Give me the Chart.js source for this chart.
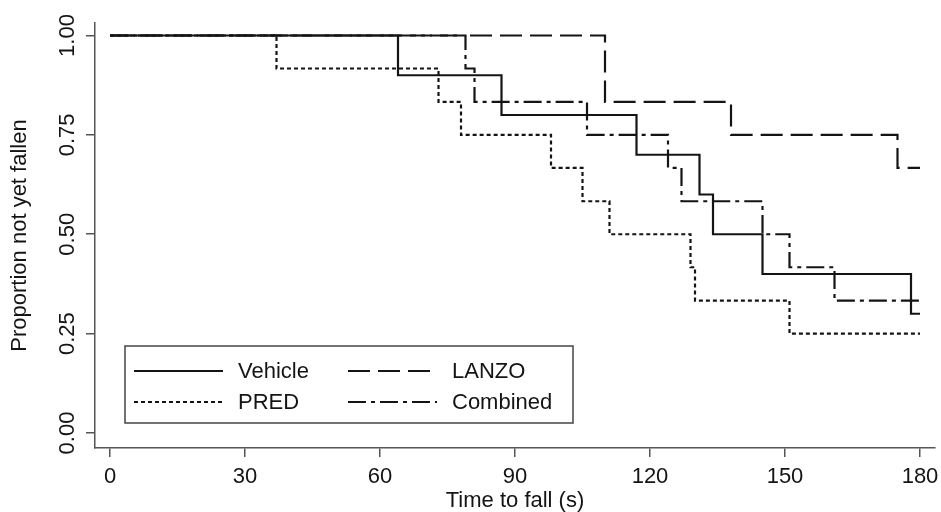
<!DOCTYPE html>
<html>
<head>
<meta charset="utf-8">
<script src="https://cdn.jsdelivr.net/npm/chart.js@4/dist/chart.umd.min.js"></script>
<style>
  html, body { margin: 0; padding: 0; background: #fff; }
  #wrap { width: 941px; height: 512px; }
</style>
</head>
<body>
<div id="wrap"><canvas id="km" width="941" height="512"></canvas></div>
<script>
// Kaplan-Meier steps: time of each fall and the proportion left after it
const VEHICLE_T  = [0, 64, 87, 117, 131, 134, 145, 178, 180];
const VEHICLE_S  = [1, 0.9, 0.8, 0.7, 0.6, 0.5, 0.4, 0.3, 0.3];
const PRED_T     = [0, 37, 73, 78, 98, 105, 111, 129, 130, 151, 180];
const PRED_S     = [1, 0.917, 0.833, 0.75, 0.667, 0.583, 0.5, 0.417, 0.333, 0.25, 0.25];
const LANZO_T    = [0, 110, 138, 175, 180];
const LANZO_S    = [1, 0.833, 0.75, 0.667, 0.667];
const COMBINED_T = [0, 79, 81, 106, 124, 127, 145, 151, 161, 180];
const COMBINED_S = [1, 0.917, 0.833, 0.75, 0.667, 0.583, 0.5, 0.417, 0.333, 0.333];

const X_TICKS = [0, 30, 60, 90, 120, 150, 180];
const Y_TICKS = [0, 0.25, 0.5, 0.75, 1];
const Y_TICK_LABELS = ['0.00', '0.25', '0.50', '0.75', '1.00'];

const INK = '#141414';
const AXIS = '#555';
const FONT = '"Liberation Sans", Arial, sans-serif';

function toPoints(ts, ss) {
    return ts.map((t, i) => ({ x: t, y: ss[i] }));
}

function series(label, ts, ss, dash) {
    return {
        label: label,
        data: toPoints(ts, ss),
        stepped: 'before',
        borderColor: INK,
        borderWidth: 2.2,
        borderDash: dash,
        pointRadius: 0,
        fill: false
    };
}

const datasets = [
    series('Vehicle', VEHICLE_T, VEHICLE_S, []),
    series('LANZO', LANZO_T, LANZO_S, [22, 8]),
    series('PRED', PRED_T, PRED_S, [4, 3]),
    series('Combined', COMBINED_T, COMBINED_S, [18, 5, 4, 5])
];

// rotated y tick labels and the boxed legend, drawn after the chart
const extras = {
    id: 'extras',
    afterDraw(chart) {
        const ctx = chart.ctx;
        const y = chart.scales.y;
        ctx.save();
        ctx.fillStyle = INK;
        ctx.font = '22px ' + FONT;
        ctx.textAlign = 'center';
        ctx.textBaseline = 'middle';
        Y_TICKS.forEach((v, i) => {
            ctx.save();
            ctx.translate(68, y.getPixelForValue(v));
            ctx.rotate(-Math.PI / 2);
            ctx.fillText(Y_TICK_LABELS[i], 0, 0);
            ctx.restore();
        });

        // legend box
        ctx.strokeStyle = '#444';
        ctx.lineWidth = 1.5;
        ctx.strokeRect(125, 346, 448, 77);
        const slots = [[134, 371], [348, 371], [134, 402], [348, 402]];
        ctx.textAlign = 'left';
        chart.data.datasets.forEach((ds, i) => {
            const [sx, sy] = slots[i];
            ctx.beginPath();
            ctx.setLineDash(ds.borderDash);
            ctx.strokeStyle = INK;
            ctx.lineWidth = 2.2;
            ctx.moveTo(sx, sy);
            ctx.lineTo(sx + 89, sy);
            ctx.stroke();
            ctx.setLineDash([]);
            ctx.fillText(ds.label, sx + 104, sy + 1);
        });
        ctx.restore();
    }
};

new Chart(document.getElementById('km'), {
    type: 'line',
    data: { datasets: datasets },
    plugins: [extras],
    options: {
        responsive: false,
        animation: false,
        layout: { padding: { top: 23, right: 6, left: 0, bottom: 0 } },
        plugins: {
            legend: { display: false },
            tooltip: { enabled: false }
        },
        scales: {
            x: {
                type: 'linear',
                min: -15 / 4.5,
                max: 180 + 15 / 4.5,
                afterBuildTicks: s => { s.ticks = X_TICKS.map(v => ({ value: v })); },
                afterFit: s => {
                    s.height = 64;
                    s.paddingLeft = 0;
                    s.paddingRight = 0;
                },
                border: { display: true, color: AXIS, width: 1.5 },
                grid: { drawOnChartArea: false, drawTicks: true, tickLength: 9, color: AXIS, lineWidth: 1.5 },
                ticks: { color: INK, font: { size: 22, family: FONT }, padding: 7, maxRotation: 0 },
                title: {
                    display: true,
                    text: 'Time to fall (s)',
                    color: INK,
                    font: { size: 22, family: FONT, lineHeight: 1 },
                    padding: { top: 0, bottom: 0 }
                }
            },
            y: {
                type: 'linear',
                min: -15 / 397,
                max: 1 + 12.5 / 397,
                afterBuildTicks: s => { s.ticks = Y_TICKS.map(v => ({ value: v })); },
                afterFit: s => {
                    s.width = 95;
                    s.paddingTop = 0;
                    s.paddingBottom = 0;
                },
                border: { display: true, color: AXIS, width: 1.5 },
                grid: { drawOnChartArea: false, drawTicks: true, tickLength: 9, color: AXIS, lineWidth: 1.5 },
                ticks: { display: false },
                title: {
                    display: true,
                    text: 'Proportion not yet fallen',
                    color: INK,
                    font: { size: 22, family: FONT, lineHeight: 1 },
                    padding: { top: 9, bottom: 0 }
                }
            }
        }
    }
});
</script>
</body>
</html>
